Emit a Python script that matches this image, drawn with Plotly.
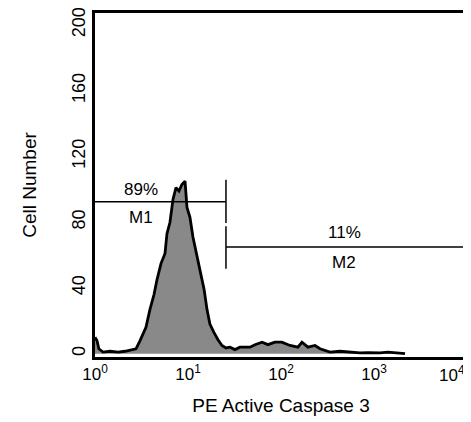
import math
import plotly.graph_objects as go

# Histogram (fluorescence intensity vs cell count)
intensity = [1.0, 1.05, 1.10, 1.22, 1.45, 1.77, 2.1, 2.38, 2.76, 3.05, 3.53, 3.90, 4.31, 4.64,
             5.13, 5.66, 5.94, 6.4, 6.9, 7.43, 8.0, 8.6, 9.29, 9.75, 10.5, 11.3, 12.5, 13.5,
             14.9, 16.0, 17.2, 19.0, 21.0, 23.2, 25.6, 28.3, 32.0, 36.2, 46.4, 52.5, 62.5,
             72.5, 86, 102, 125, 152, 168, 195, 232, 263, 336, 431, 552, 707, 861, 1160,
             1415, 1905, 2155]
counts = [10, 8, 3, 1, 1.5, 1, 1.5, 2, 3, 8, 16, 27, 36, 45,
          55, 61, 73, 80, 94, 101, 99, 103, 105, 89, 83, 71, 59, 51,
          39, 27, 18, 13, 8.5, 5, 3.5, 4, 2.5, 4, 4, 5.5, 7,
          5.5, 7, 7, 5, 4, 7, 4, 5, 3, 1, 1.5, 1, 0.5, 0.6, 0.5,
          1, 0.5, 0]

# Markers
gate_split = 25.6
m1_level, m2_level = 92.4, 65
m1_tick = [79.6, 105.8]
m2_tick = [51.7, 77.5]
m1_label, m2_label = "89%", "11%"

tick_vals = [1, 10, 100, 1000]
tick_text = ["10<sup>0</sup>", "10<sup>1</sup>", "10<sup>2</sup>", "10<sup>3</sup>"]
last_tick_val, last_tick_text = 10000, "10<sup>4</sup>"
y_ticks = [0, 40, 80, 120, 160, 200]

FONT = "Liberation Sans, Arial, sans-serif"

fig = go.Figure()
fig.add_trace(go.Scatter(x=intensity, y=counts, mode="lines", fill="tozeroy",
                         fillcolor="#898989", line=dict(color="black", width=2.8),
                         hoverinfo="skip"))
lw = 1.5
fig.add_trace(go.Scatter(x=[1, gate_split], y=[m1_level, m1_level], mode="lines",
                         line=dict(color="black", width=lw)))
fig.add_trace(go.Scatter(x=[gate_split, gate_split], y=m1_tick, mode="lines",
                         line=dict(color="black", width=lw)))
fig.add_trace(go.Scatter(x=[gate_split, 10000], y=[m2_level, m2_level], mode="lines",
                         line=dict(color="black", width=lw)))
fig.add_trace(go.Scatter(x=[gate_split, gate_split], y=m2_tick, mode="lines",
                         line=dict(color="black", width=lw)))

ann_font = dict(family=FONT, size=17, color="black")
anns = [
    (3.12, 99.7, m1_label), (3.12, 82.7, "M1"),
    (476, 73.6, m2_label), (476, 55.3, "M2"),
]
for ax_, ay_, t in anns:
    fig.add_annotation(x=math.log10(ax_), y=ay_, text=t, showarrow=False,
                       xref="x", yref="y", font=ann_font)

# last x tick label, kept inside the page
fig.add_annotation(x=math.log10(last_tick_val), y=0, xref="x", yref="paper",
                   text=last_tick_text, showarrow=False, xanchor="right", yanchor="top",
                   xshift=0, yshift=-4, font=dict(family=FONT, size=17, color="black"))

# page body has an 8px margin: figure is 463x414 and offset by 8px
fig.update_layout(
    width=463, height=414,
    margin=dict(l=87, r=4, t=5, b=65),
    paper_bgcolor="white", plot_bgcolor="white",
    showlegend=False,
    font=dict(family=FONT, color="black"),
    xaxis=dict(type="log", range=[0, 4], tickvals=tick_vals, ticktext=tick_text,
               automargin=False, ticklabeloverflow="allow",
               showgrid=False, zeroline=False, showline=True, linecolor="black",
               linewidth=2.5, mirror=True, ticks="",
               tickfont=dict(family=FONT, size=17),
               title=dict(text="PE Active Caspase 3", font=dict(family=FONT, size=19), standoff=16)),
    yaxis=dict(range=[-2, 207.3], tickvals=y_ticks, tickangle=-90,
               automargin=False, ticklabeloverflow="allow",
               showgrid=False, zeroline=False, showline=True, linecolor="black",
               linewidth=2.5, mirror=True, ticks="",
               tickfont=dict(family=FONT, size=18),
               title=dict(text="Cell Number", font=dict(family=FONT, size=19), standoff=28)),
)

fig.write_html("out.html")
